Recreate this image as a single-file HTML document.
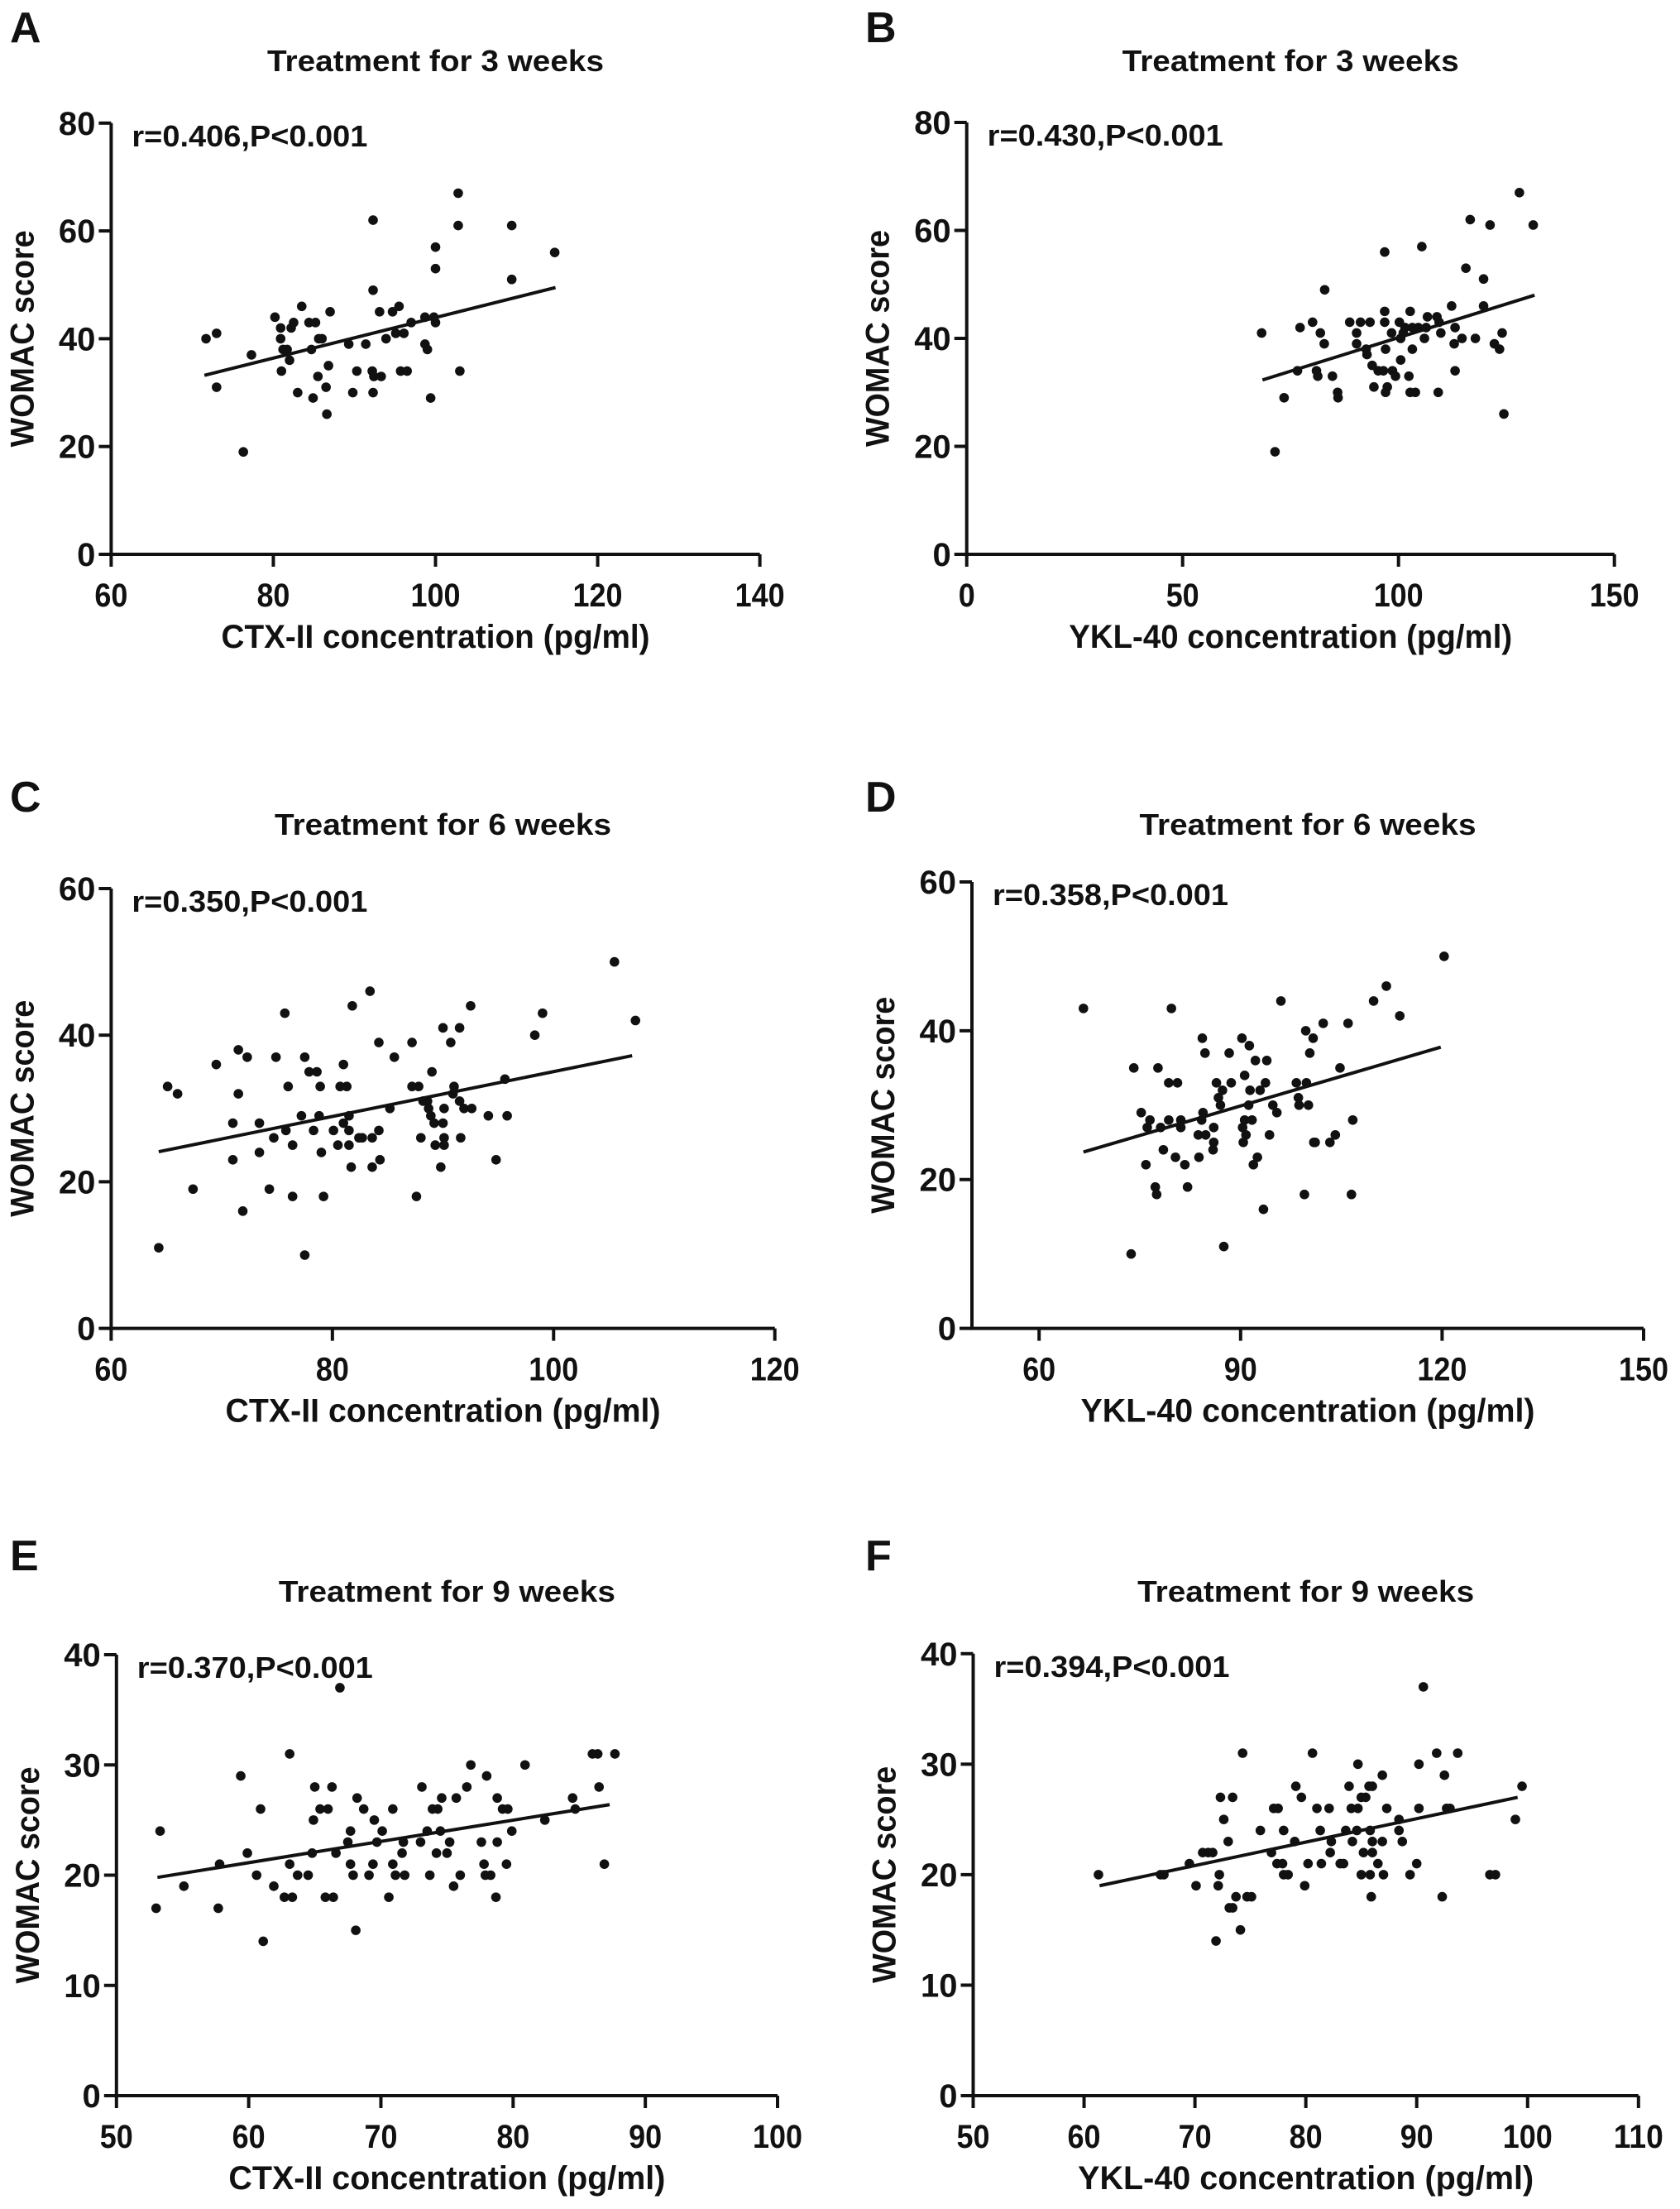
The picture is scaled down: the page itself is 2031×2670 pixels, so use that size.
<!DOCTYPE html>
<html><head><meta charset="utf-8"><style>
html,body{margin:0;padding:0;background:#fff}
svg{display:block}
text{font-family:"Liberation Sans",Arial,sans-serif;font-weight:bold;fill:#111}
</style></head><body>
<svg id="fig" width="2031" height="2670" viewBox="0 0 2031 2670" xmlns="http://www.w3.org/2000/svg"></svg>
<script>
// ---- Panel A data ----
const aX=[71.7,73,73,76.3,77.3,80.2,80.9,80.9,81,81.2,81.7,82,82.2,82.5,83,83.5,84.4,84.7,84.9,85.2,85.5,85.6,86,86.5,86.6,86.8,87,89.3,89.8,90.3,91.4,92.3,92.3,92.2,92.3,92.4,93.1,93.3,93.9,94.7,95.1,95.5,95.7,96.1,96.5,97,98.7,98.7,99,99.4,99.8,100,100,100,102.8,102.8,103,109.4,109.4,114.7];
const aY=[40,41,31,19,37,44,42,40,34,38,38,36,42,43,30,46,43,38,29,43,33,40,40,31,26,35,45,39,30,34,39,62,49,34,30,33,45,33,40,45,41,46,34,41,34,43,44,39,38,29,44,57,53,43,67,61,34,61,51,56];
const aFit=[71.5,33.2,114.8,49.5];
// ---- Panel B data ----
const bX=[68.3,71.4,73.5,76.6,77.2,80.1,81,81.3,81.9,82.8,82.9,84.7,85.9,86,88.7,90.3,90.3,91.2,92.5,92.7,93.4,93.9,94.3,95.3,96.5,96.8,96.8,96.8,97,97,97.4,98.4,98.6,99.3,100.2,100.5,100.5,101.1,101.5,102.4,102.7,102.7,103.2,103.2,103.9,104.6,105.4,106,106.4,106.7,108.9,109.2,109.4,109.8,112.3,112.9,113.1,113.1,114.7,115.6,116.6,117.8,119.7,119.7,121.2,122.2,123.4,124,124.4,128,131.2];
const bY=[41,19,29,34,42,43,34,33,41,39,49,33,30,29,43,41,39,43,38,37,43,35,31,34,34,43,45,56,38,30,31,41,34,33,43,36,40,41,42,33,45,30,42,38,30,42,57,40,42,44,44,30,43,41,46,39,42,34,40,53,62,40,51,46,61,39,38,41,26,67,61];
const bFit=[68.5,32.3,131.5,48.0];
// ---- Panel C data ----
const cX=[64.3,65.1,66,67.4,69.5,71,71,71.5,71.5,71.9,72.3,73.4,73.4,74.3,74.7,74.9,75.7,75.8,76,76.4,76.4,77.2,77.5,77.5,77.9,78.3,78.6,78.8,78.9,79,79.2,80.1,80.5,80.7,81,81,81.3,81.5,81.5,81.5,81.7,81.8,82.4,82.7,83.4,83.6,83.6,84.2,84.2,84.3,85.2,85.6,87.2,87.2,87.6,87.8,88,88.2,88.6,88.7,88.9,89,89.2,89.3,89.8,90,90,90.1,90.1,90.1,90.7,90.9,91,91.5,91.5,91.6,91.9,92.5,92.6,94.1,94.8,95.6,95.8,98.3,99,105.5,107.4];
const cY=[11,33,32,19,36,28,23,38,32,16,37,28,24,19,26,37,43,27,33,25,18,29,37,10,35,27,35,29,33,24,18,27,25,33,36,28,33,29,27,25,22,44,26,26,46,26,22,39,27,23,30,37,39,33,18,33,26,31,31,30,29,35,28,25,22,41,28,30,26,25,39,32,33,41,31,26,30,44,30,29,23,34,29,40,43,50,42];
const cFit=[64.3,24.1,107.1,37.2];
// ---- Panel D data ----
const dX=[66.6,73.7,74.1,75.2,75.9,76.1,76.5,77.3,77.5,77.7,78.1,78.5,79.3,79.3,79.7,80.3,80.6,81.1,81.1,81.7,82.1,83.7,83.8,84.2,84.3,84.4,84.7,84.8,86,86,85.9,86.4,86.7,87,87.3,87.5,88.3,88.6,90.2,90.3,90.4,90.6,90.6,90.8,91.2,91.3,91.4,91.7,91.9,92.2,92.5,92.9,93.4,93.7,93.9,94.3,94.8,95.4,96,98.3,98.6,98.7,99.5,99.7,99.8,100.1,100.3,100.8,100.9,101.1,102.3,103.3,104.1,104.8,106,106.5,106.7,109.8,111.7,113.7,120.3];
const dY=[43,10,35,29,22,27,28,19,18,35,27,24,28,33,43,23,33,28,27,22,19,26,23,28,39,29,37,26,27,25,24,33,31,30,32,11,37,33,39,27,25,34,28,26,30,38,32,28,22,36,23,32,16,33,36,26,30,29,44,33,31,30,18,40,33,30,37,39,25,25,41,25,26,35,41,18,28,44,46,42,50];
const dFit=[66.6,23.7,119.8,37.8];
// ---- Panel E data ----
const eX=[53,53.3,55.1,57.7,57.8,59.4,59.9,60.6,60.9,61.1,61.9,62.7,63.1,63.1,63.3,63.7,64.5,64.8,64.9,65,65.4,65.8,66,66.3,66.4,66.6,66.9,67.5,67.7,67.7,67.9,68.1,68.2,68.7,69.1,69.4,69.5,69.7,70.1,70.6,70.9,70.9,71.1,71.7,71.6,71.8,73,73.1,73.5,73.7,73.9,74.2,74.3,74.5,74.6,75,75.2,75.5,75.7,76,76.5,76.8,77.6,77.8,77.9,78,78.3,78.7,78.8,78.8,79.2,79.5,79.6,79.9,80.9,82.4,84.5,84.7,86,86.4,86.5,86.9,87.7];
const eY=[17,24,19,17,21,29,22,20,26,14,19,18,31,21,18,20,20,22,25,28,26,18,26,28,18,22,37,23,24,21,20,15,27,26,20,21,25,23,24,18,21,26,20,23,22,20,23,28,24,20,26,22,26,24,27,22,23,19,27,20,28,30,23,21,20,29,20,18,23,27,26,21,26,24,30,25,27,26,31,31,28,21,31];
const eFit=[53.1,19.8,87.3,26.4];
// ---- Panel F data ----
const fX=[61.3,66.9,67.2,69.5,70.1,70.7,71.2,71.6,71.9,72.1,72.2,72.3,72.6,73,73.1,73.4,73.4,73.7,74.1,74.3,74.7,75.1,75.9,76.9,77.1,77.5,77.4,77.9,78,78,78.4,79,79.1,79.6,79.9,80.2,80.6,81,81.3,81.4,82.1,82.2,82.3,83.1,83.4,83.6,83.9,84.1,84.2,84.6,84.7,84.7,85,85,85.2,85.4,85.7,85.8,85.8,85.9,86,86,86,86.5,86.9,86.9,87,87.3,88.4,88.4,88.7,89.4,90,90.2,90.2,90.6,91.8,92.3,92.5,92.7,93,93.7,96.6,97.1,98.9,99.5];
const fY=[20,20,20,21,19,22,22,22,14,19,20,27,25,23,17,17,27,18,15,31,18,18,24,22,26,26,21,21,24,20,20,23,28,27,19,21,31,26,24,21,26,22,23,21,21,24,28,26,23,24,26,30,20,27,22,27,28,20,24,18,22,28,23,21,29,23,20,26,25,24,23,20,21,26,30,37,31,18,29,26,26,31,20,20,25,28];
const fFit=[61.4,19.0,99.1,27.0];

const xTicksA=[60,80,100,120,140], xTicksB=[0,50,100,150], xTicksC=[60,80,100,120], xTicksD=[60,90,120,150], xTicksE=[50,60,70,80,90,100], xTicksF=[50,60,70,80,90,100,110];
const yTicks80=[0,20,40,60,80], yTicks60=[0,20,40,60], yTicks40=[0,10,20,30,40];

const NS='http://www.w3.org/2000/svg';
const svg=document.getElementById('fig');
function mk(tag,attrs,parent,txt){const e=document.createElementNS(NS,tag);for(const k in attrs)e.setAttribute(k,attrs[k]);if(txt!==undefined)e.textContent=txt;(parent||svg).appendChild(e);return e;}

const panels=[
 {id:'a',letter:'A',lx:12,ly:51,title:'Treatment for 3 weeks',tb:86,r:'r=0.406,P<0.001',xl:'CTX-II concentration (pg/ml)',xlw:518,
  px0:134.4,px1:918.6,py0:670,py1:148.8,xmin:60,xmax:140,ymax:80,xt:xTicksA,yt:yTicks80,xs:aX,ys:aY,fit:aFit},
 {id:'b',letter:'B',lx:1046,ly:51,title:'Treatment for 3 weeks',tb:86,r:'r=0.430,P<0.001',xl:'YKL-40 concentration (pg/ml)',xlw:536,
  px0:1168.7,px1:1951.7,py0:670,py1:148,xmin:0,xmax:150,ymax:80,xt:xTicksB,yt:yTicks80,xs:bX,ys:bY,fit:bFit},
 {id:'c',letter:'C',lx:12,ly:981,title:'Treatment for 6 weeks',tb:1009,r:'r=0.350,P<0.001',xl:'CTX-II concentration (pg/ml)',xlw:526,
  px0:134.4,px1:936.7,py0:1605.6,py1:1074,xmin:60,xmax:120,ymax:60,xt:xTicksC,yt:yTicks60,xs:cX,ys:cY,fit:cFit},
 {id:'d',letter:'D',lx:1046,ly:981,title:'Treatment for 6 weeks',tb:1009,r:'r=0.358,P<0.001',xl:'YKL-40 concentration (pg/ml)',xlw:549,
  px0:1175,px1:1987,py0:1605.6,py1:1066,xmin:50,xmax:150,ymax:60,xt:xTicksD,yt:yTicks60,xs:dX,ys:dY,fit:dFit},
 {id:'e',letter:'E',lx:12,ly:1898,title:'Treatment for 9 weeks',tb:1936,r:'r=0.370,P<0.001',xl:'CTX-II concentration (pg/ml)',xlw:528,
  px0:140.8,px1:940,py0:2533,py1:2000,xmin:50,xmax:100,ymax:40,xt:xTicksE,yt:yTicks40,xs:eX,ys:eY,fit:eFit},
 {id:'f',letter:'F',lx:1046,ly:1898,title:'Treatment for 9 weeks',tb:1936,r:'r=0.394,P<0.001',xl:'YKL-40 concentration (pg/ml)',xlw:551,
  px0:1176.5,px1:1980.8,py0:2533,py1:1998.8,xmin:50,xmax:110,ymax:40,xt:xTicksF,yt:yTicks40,xs:fX,ys:fY,fit:fFit}
];

panels.forEach(p=>{
  const g=mk('g',{});
  
  
  const X=v=>p.px0+(v-p.xmin)/(p.xmax-p.xmin)*(p.px1-p.px0);
  const Y=v=>p.py0-(v/p.ymax)*(p.py0-p.py1);
  const cx=(p.px0+p.px1)/2;
  let t;
  t=mk('text',{x:p.lx,y:p.ly,'font-size':52},g,p.letter);
  
  
  t=mk('text',{x:cx,y:p.tb,'font-size':36,'text-anchor':'middle',textLength:407,lengthAdjust:'spacingAndGlyphs'},g,p.title);
  
  
  const ax=mk('path',{d:`M${p.px0},${p.py1}V${p.py0}H${p.px1}`,fill:'none',stroke:'#111','stroke-width':4},g);
  
  
  p.yt.forEach(v=>{
    const yy=Y(v);
    const tk=mk('line',{x1:p.px0-15,x2:p.px0,y1:yy,y2:yy,stroke:'#111','stroke-width':4},g);
    
    
    const lb=mk('text',{x:p.px0-19,y:yy+14,'font-size':40,'text-anchor':'end'},g,String(v));
    
    
  });
  p.xt.forEach(v=>{
    const xx=X(v);
    const tk=mk('line',{x1:xx,x2:xx,y1:p.py0,y2:p.py0+15,stroke:'#111','stroke-width':4},g);
    
    
    const s=String(v);
    const lb=mk('text',{x:xx,y:p.py0+63,'font-size':40,'text-anchor':'middle',textLength:s.length*20,lengthAdjust:'spacingAndGlyphs'},g,s);
    
    
  });
  t=mk('text',{x:cx,y:p.py0+113,'font-size':40,'text-anchor':'middle',textLength:p.xlw,lengthAdjust:'spacingAndGlyphs'},g,p.xl);
  
  
  const ymid=(p.py0+p.py1)/2, ylx=p.px0-108;
  t=mk('text',{x:ylx+14,y:ymid,'font-size':40,'text-anchor':'middle',textLength:262,lengthAdjust:'spacingAndGlyphs',transform:`rotate(-90 ${ylx+14} ${ymid})`},g,'WOMAC score');
  
  
  t=mk('text',{x:p.px0+25,y:p.py1+28,'font-size':36,textLength:285,lengthAdjust:'spacingAndGlyphs'},g,p.r);
  
  
  p.xs.forEach((v,i)=>{
    const c=mk('circle',{cx:X(v),cy:Y(p.ys[i]),r:5.8,fill:'#111'},g);
    
    
  });
  const f=p.fit;
  const ln=mk('line',{x1:X(f[0]),y1:Y(f[1]),x2:X(f[2]),y2:Y(f[3]),stroke:'#111','stroke-width':4},g);
  
  
});
</script>
</body></html>
